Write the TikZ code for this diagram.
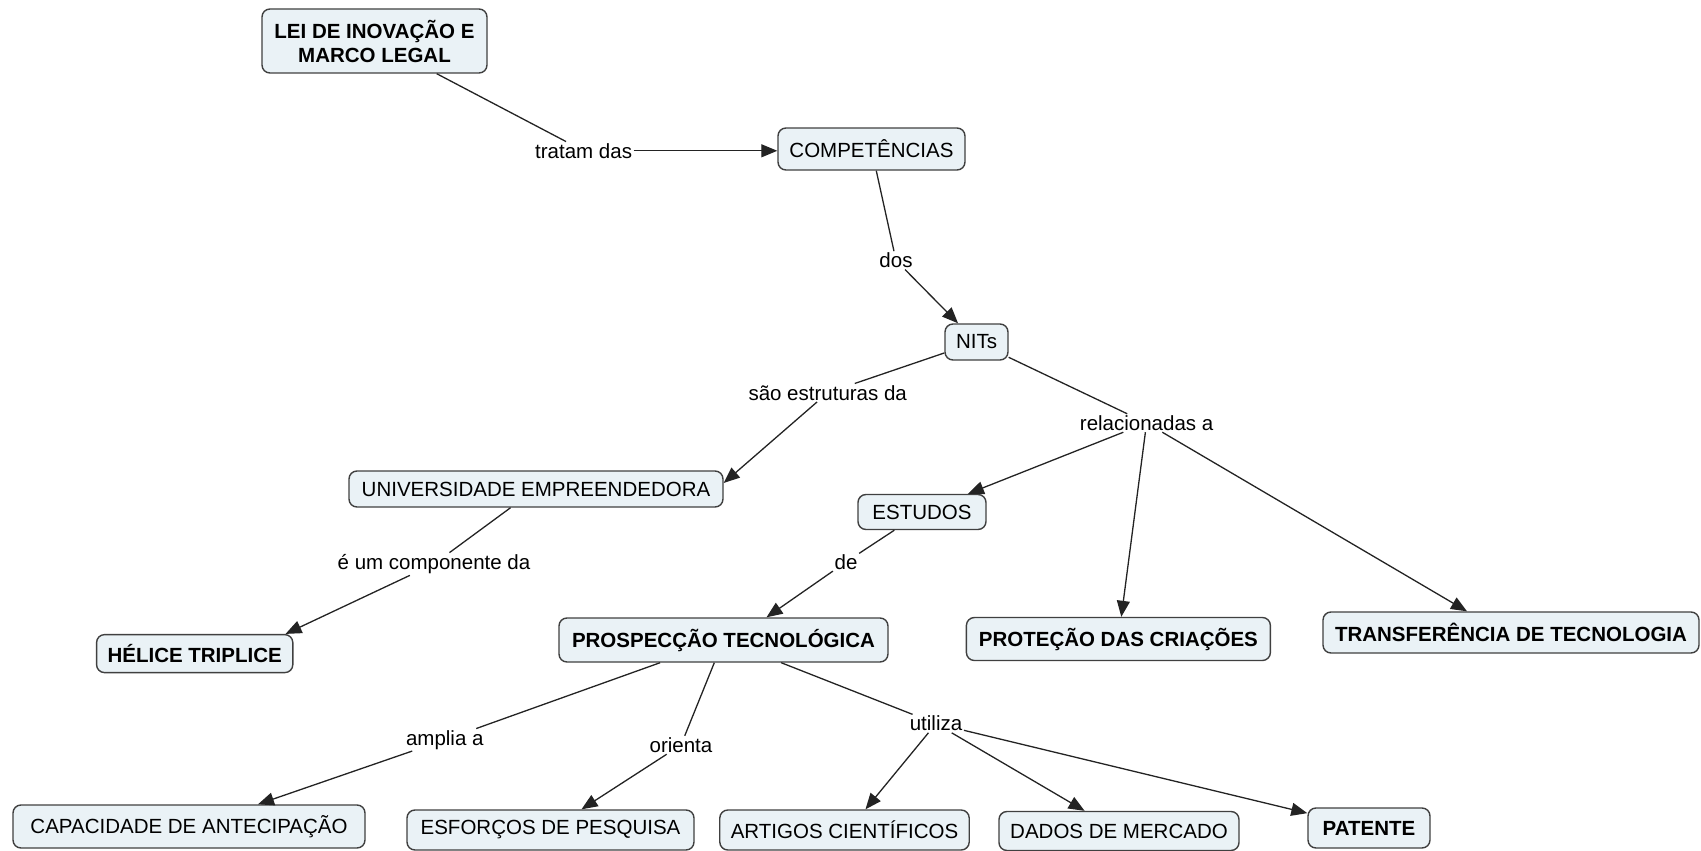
\documentclass[tikz,border=0pt]{standalone}
\usepackage{fontspec}
\setmainfont{Liberation Sans}
\usetikzlibrary{arrows.meta,calc}
\definecolor{conceptfill}{RGB}{234,242,246}
\definecolor{conceptline}{RGB}{64,64,64}
\definecolor{linkline}{RGB}{35,35,35}
\begin{document}
\begin{tikzpicture}[x=1pt,y=-1pt,
  txt/.style={font=\fontsize{20.5pt}{24pt}\selectfont},
  concept/.style={txt, draw=conceptline, line width=1.4pt, fill=conceptfill,
    rounded corners=8pt, inner xsep=11pt, inner ysep=0pt, minimum height=40pt, text=black},
  key/.style={concept, font=\fontsize{20.5pt}{24pt}\selectfont\bfseries},
  linkword/.style={txt, inner sep=1.5pt},
  link/.style={draw=linkline, line width=1.3pt},
  arrowlink/.style={link, -{Triangle[length=16pt,width=13pt]}},
]
\useasboundingbox (0,0) rectangle (1701,851);

% concepts
\node[key, align=center, minimum width=225pt, minimum height=64pt] (lei) at (374.5,41) {LEI DE INOVAÇÃO E\\MARCO LEGAL};
\node[concept, minimum width=187pt, minimum height=42pt] (comp) at (871.5,149) {COMPETÊNCIAS};
\node[concept, minimum width=63pt, minimum height=36pt] (nits) at (976.5,342) {NITs};
\node[concept, minimum width=374pt, minimum height=36pt] (univ) at (536,489) {UNIVERSIDADE EMPREENDEDORA};
\node[concept, minimum width=128pt, minimum height=35pt] (estudos) at (922,512) {ESTUDOS};
\node[key, minimum width=196pt, minimum height=38pt] (helice) at (194.7,653.6) {HÉLICE TRIPLICE};
\node[key, minimum width=329pt, minimum height=44pt] (prosp) at (723.5,640) {PROSPECÇÃO TECNOLÓGICA};
\node[key, minimum width=304pt, minimum height=43pt] (prot) at (1118.4,639) {PROTEÇÃO DAS CRIAÇÕES};
\node[key, minimum width=376pt, minimum height=41pt] (trans) at (1511,632.5) {TRANSFERÊNCIA DE TECNOLOGIA};
\node[concept, minimum width=352pt, minimum height=43pt] (capac) at (189,826.5) {CAPACIDADE DE ANTECIPAÇÃO};
\node[concept, minimum width=287pt, minimum height=40pt] (esfor) at (550.5,830) {ESFORÇOS DE PESQUISA};
\node[concept, minimum width=249pt, minimum height=40pt] (artig) at (844.5,830) {ARTIGOS CIENTÍFICOS};
\node[concept, minimum width=240pt, minimum height=39pt] (dados) at (1119,831) {DADOS DE MERCADO};
\node[key, minimum width=122pt, minimum height=40pt] (patente) at (1369,828) {PATENTE};

% linking phrases
\node[linkword] (tratam) at (583.6,150.8) {tratam das};
\node[linkword] (dos) at (896,260.4) {dos};
\node[linkword] (sao) at (827.7,392.7) {são estruturas da};
\node[linkword] (rel) at (1146.6,423) {relacionadas a};
\node[linkword] (comp2) at (434,564) {é um componente da};
\node[linkword] (de) at (846,562) {de};
\node[linkword] (amplia) at (444.8,739.8) {amplia a};
\node[linkword] (orienta) at (681,745) {orienta};
\node[linkword] (utiliza) at (936,723.6) {utiliza};

% connectors
\draw[link] (lei) -- (tratam);
\draw[arrowlink] (tratam.east) -- (comp.west |- tratam.east);
\draw[link] (comp) -- (dos);
\draw[arrowlink] (dos) -- (nits);
\draw[link] (nits) -- (sao);
\draw[arrowlink] (sao) -- ($(univ.east)+(0,-6)$);
\draw[link] (nits) -- (rel);
\draw[arrowlink] (rel) -- (estudos);
\draw[arrowlink] (rel) -- (prot);
\draw[arrowlink] (rel) -- ($(trans.north)+(-44,0)$);
\draw[link] (univ) -- (comp2);
\draw[arrowlink] (comp2) -- ($(helice.north east)+(-8,0)$);
\draw[link] (estudos) -- (de);
\draw[arrowlink] (de) -- ($(prosp.north)+(43,0)$);
\draw[link] (prosp) -- (amplia);
\draw[arrowlink] (amplia) -- ($(capac.north)+(69,0)$);
\draw[link] (prosp) -- (orienta);
\draw[arrowlink] (orienta) -- ($(esfor.north)+(31,0)$);
\draw[link] (prosp) -- (utiliza);
\draw[arrowlink] (utiliza) -- ($(artig.north)+(21,0)$);
\draw[arrowlink] (utiliza) -- (dados);
\draw[arrowlink] (utiliza) -- (patente);
\end{tikzpicture}
\end{document}
